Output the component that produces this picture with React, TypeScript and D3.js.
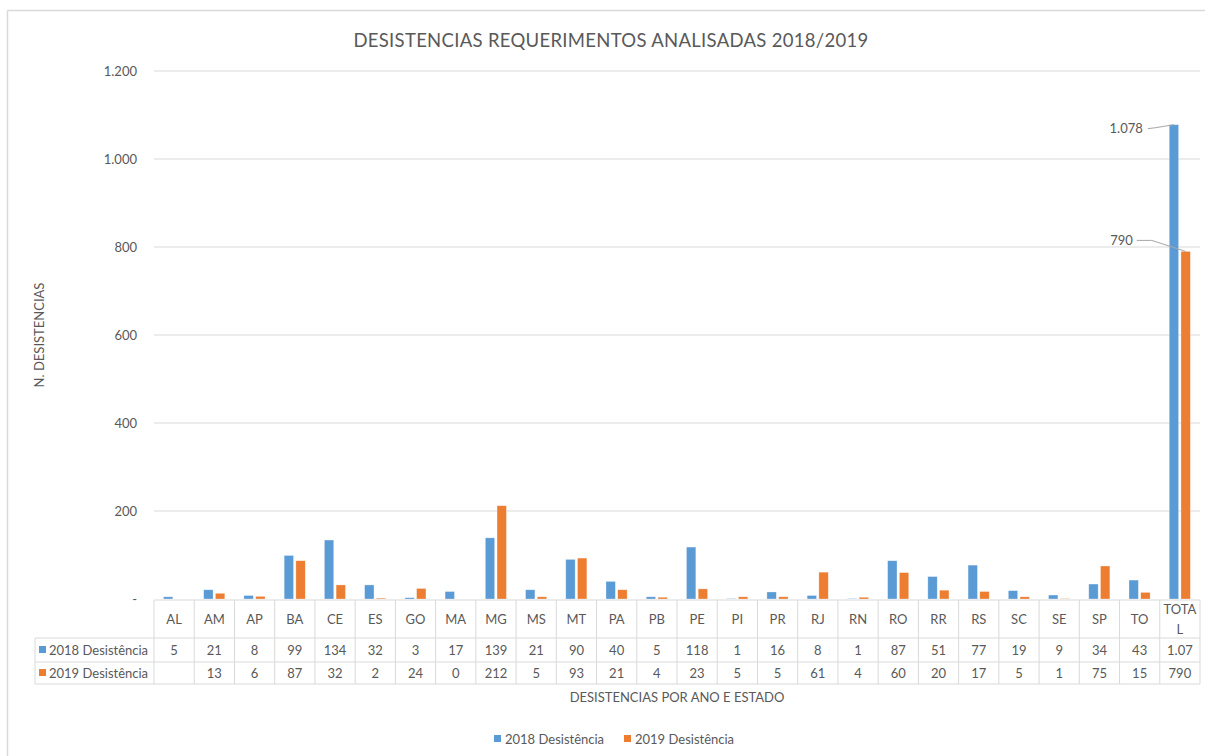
import React from "react";
import * as d3 from "d3";

const categories = ["AL","AM","AP","BA","CE","ES","GO","MA","MG","MS","MT","PA","PB","PE","PI","PR","RJ","RN","RO","RR","RS","SC","SE","SP","TO","TOTAL"];
const values2018: (number | null)[] = [5,21,8,99,134,32,3,17,139,21,90,40,5,118,1,16,8,1,87,51,77,19,9,34,43,1078];
const values2019: (number | null)[] = [null,13,6,87,32,2,24,0,212,5,93,21,4,23,5,5,61,4,60,20,17,5,1,75,15,790];
const seriesNames = ["2018 Desistência", "2019 Desistência"];
const yTicks = [0, 200, 400, 600, 800, 1000, 1200];
const labelledCategory = "TOTAL";

const W = 1205, H = 756;
const FONT = "Lato, 'Open Sans', sans-serif";
const TXT = "#595959";
const GRID = "#D9D9D9";
const COLORS = ["#5B9BD5", "#ED7D31"];

const locale = d3.formatLocale({ decimal: ",", thousands: ".", grouping: [3], currency: ["R$", ""] });
const fmt = locale.format(",d");
const tickFmt = (v: number) => (v === 0 ? "-" : fmt(v));
// Excel cell wraps / clips text wider than the 4-char cell
const cellText = (s: string) => s.slice(0, 4);

export default function App() {
  const plotL = 154, plotR = 1200, plotT = 71, plotB = 599;
  const x = d3.scaleBand<string>().domain(categories).range([plotL, plotR]).padding(0);
  const y = d3.scaleLinear().domain([0, 1200]).range([plotB, plotT]);
  const colW = x.bandwidth();
  const sub = d3.scaleBand<string>().domain(["0", "1"]).range([colW * 0.235, colW * 0.76]).paddingInner(0.2);
  const series = [values2018, values2019];

  const tblTop = 600, hdrB = 638, r1B = 662, r2B = 684, legL = 35;

  const ti = categories.indexOf(labelledCategory);
  const tCat = categories[ti];
  const bx0 = (x(tCat) as number) + (sub("0") as number) + sub.bandwidth() / 2;
  const bx1 = (x(tCat) as number) + (sub("1") as number) + sub.bandwidth() / 2;
  const v0 = values2018[ti] as number, v1 = values2019[ti] as number;
  const colStart = x(tCat) as number;

  return (
    <svg width={W} height={H} style={{ position: "absolute", left: 0, top: 0, background: "#fff" }} fontFamily={FONT}>
      <rect x={0} y={0} width={W} height={H} fill="#fff" />
      {/* chart frame */}
      <line x1={7.5} y1={10.5} x2={W} y2={10.5} stroke={GRID} strokeWidth={1.5} />
      <line x1={7.5} y1={10.5} x2={7.5} y2={H} stroke={GRID} strokeWidth={1.5} />

      <text x={611} y={47} textAnchor="middle" fontSize={18.5} fill={TXT} letterSpacing={0.3}>
        DESISTENCIAS REQUERIMENTOS ANALISADAS 2018/2019
      </text>

      {/* gridlines and y ticks */}
      {yTicks.map((t) => (
        <g key={t}>
          {t > 0 && <line x1={plotL} x2={plotR} y1={y(t)} y2={y(t)} stroke={GRID} strokeWidth={1} />}
          <text x={137} y={y(t) + 4.5} textAnchor="end" fontSize={13} fill={TXT}>{tickFmt(t)}</text>
        </g>
      ))}

      <text transform={`translate(44,335) rotate(-90)`} textAnchor="middle" fontSize={13} fill={TXT}>N. DESISTENCIAS</text>

      {/* bars */}
      {series.map((vals, si) =>
        vals.map((v, i) =>
          v == null ? null : (
            <rect key={`${si}-${i}`}
              x={(x(categories[i]) as number) + (sub(String(si)) as number)}
              y={y(v)} width={sub.bandwidth()} height={Math.max(0, y(0) - y(v))}
              fill={COLORS[si]} stroke="#fff" strokeOpacity={0.5} strokeWidth={0.6} />
          )
        )
      )}

      {/* data labels for total */}
      <text x={colStart - 17} y={y(v0) + 8.5} textAnchor="end" fontSize={13} fill={TXT}>{fmt(v0)}</text>
      <path d={`M${colStart - 12},${y(v0) + 4} L${colStart - 4},${y(v0) + 3} L${bx0},${y(v0)}`} fill="none" stroke="#A6A6A6" strokeWidth={1} />
      <text x={colStart - 27} y={y(v1) - 6} textAnchor="end" fontSize={13} fill={TXT}>{fmt(v1)}</text>
      <path d={`M${colStart - 23},${y(v1) - 11} L${colStart - 8},${y(v1) - 11} L${bx1},${y(v1)}`} fill="none" stroke="#A6A6A6" strokeWidth={1} />

      {/* data table */}
      <g stroke={GRID} strokeWidth={1} fill="none">
        <line x1={plotL} x2={plotR} y1={tblTop} y2={tblTop} />
        <line x1={legL} x2={plotR} y1={hdrB} y2={hdrB} />
        <line x1={legL} x2={plotR} y1={r1B} y2={r1B} />
        <line x1={legL} x2={plotR} y1={r2B} y2={r2B} />
        <line x1={legL} x2={legL} y1={hdrB} y2={r2B} />
        {categories.map((c) => (
          <line key={c} x1={x(c) as number} x2={x(c) as number} y1={tblTop} y2={r2B} />
        ))}
        <line x1={plotR} x2={plotR} y1={tblTop} y2={r2B} />
      </g>
      {categories.map((c) => {
        const cx = (x(c) as number) + colW / 2;
        const lines = c.length > 4 ? [c.slice(0, 4), c.slice(4)] : [c];
        return (
          <g key={c} fontSize={13} fill={TXT} textAnchor="middle">
            {lines.length === 1 ? (
              <text x={cx} y={624}>{c}</text>
            ) : (
              lines.map((l, li) => <text key={li} x={cx} y={614 + li * 20}>{l}</text>)
            )}
          </g>
        );
      })}
      {series.map((vals, si) => {
        const rowY = si === 0 ? 655 : 678;
        return (
          <g key={si} fontSize={13} fill={TXT}>
            <rect x={39} y={rowY - 9} width={7} height={7} fill={COLORS[si]} />
            <text x={49} y={rowY} fontSize={13}>{seriesNames[si]}</text>
            {vals.map((v, i) =>
              v == null ? null : (
                <text key={i} x={(x(categories[i]) as number) + colW / 2} y={rowY} textAnchor="middle">{cellText(fmt(v))}</text>
              )
            )}
          </g>
        );
      })}

      <text x={(plotL + plotR) / 2} y={702} textAnchor="middle" fontSize={13} fill={TXT}>DESISTENCIAS POR ANO E ESTADO</text>

      {/* legend */}
      {seriesNames.map((n, i) => (
        <g key={n}>
          <rect x={494 + i * 130} y={735} width={7} height={7} fill={COLORS[i]} />
          <text x={505 + i * 130} y={744} fontSize={13} fill={TXT}>{n}</text>
        </g>
      ))}
    </svg>
  );
}
